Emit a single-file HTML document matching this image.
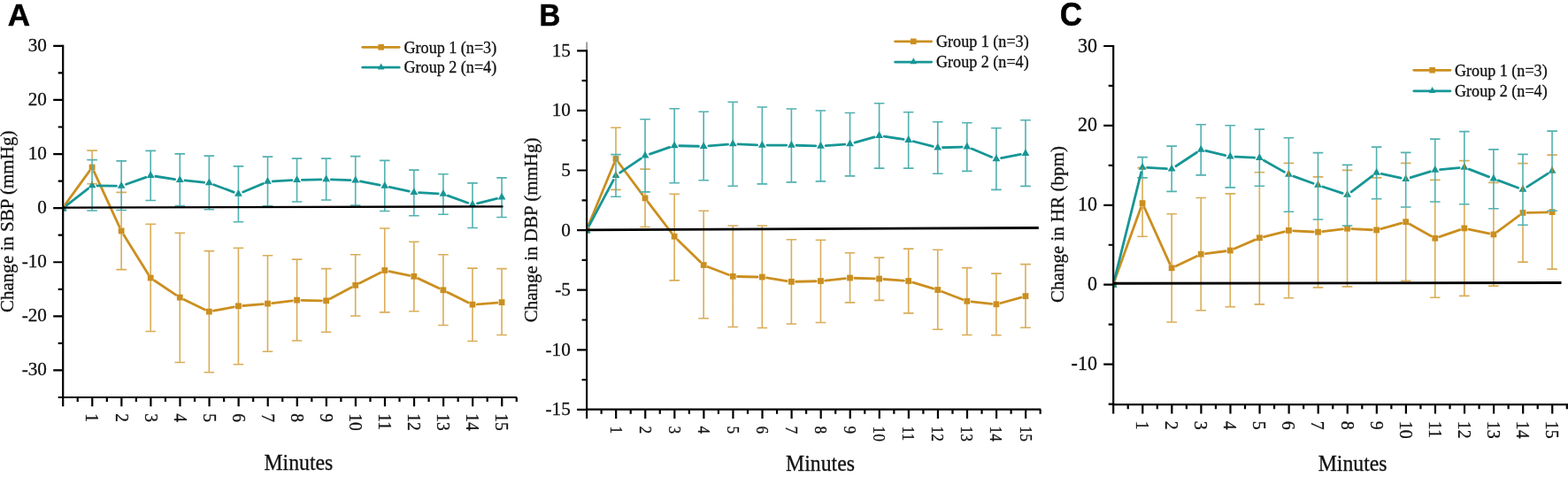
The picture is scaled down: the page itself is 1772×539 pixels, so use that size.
<!DOCTYPE html>
<html lang="en"><head><meta charset="utf-8"><title>Change in SBP, DBP and HR over time</title>
<style>html,body{margin:0;padding:0;background:#fff}body{width:1772px;height:539px;overflow:hidden}svg{display:block}text{fill:#111}.s{font-family:"Liberation Serif", "Times New Roman", serif;stroke:#111;stroke-width:.3px}.b{font-family:"Liberation Sans", Arial, sans-serif;font-weight:700;fill:#000;stroke:#000;stroke-width:.5px}</style>
</head><body>
<svg width="1772" height="539" viewBox="0 0 1772 539">
<rect width="1772" height="539" fill="#fff"/>
<g id="panel-A">
<text class="s" transform="translate(52.9 57.65) scale(0.99 1)" font-size="21.4" text-anchor="end">30</text>
<text class="s" transform="translate(52.9 118.75) scale(0.99 1)" font-size="21.4" text-anchor="end">20</text>
<text class="s" transform="translate(52.9 179.85) scale(0.99 1)" font-size="21.4" text-anchor="end">10</text>
<text class="s" transform="translate(52.9 240.95) scale(0.99 1)" font-size="21.4" text-anchor="end">0</text>
<text class="s" transform="translate(52.9 302.05) scale(0.99 1)" font-size="21.4" text-anchor="end">-10</text>
<text class="s" transform="translate(52.9 363.15) scale(0.99 1)" font-size="21.4" text-anchor="end">-20</text>
<text class="s" transform="translate(52.9 424.25) scale(0.99 1)" font-size="21.4" text-anchor="end">-30</text>
<text class="s" transform="translate(97.47 467.3) rotate(90) scale(0.9 1)" font-size="21.6" text-anchor="start">1</text>
<text class="s" transform="translate(130.54 467.3) rotate(90) scale(0.9 1)" font-size="21.6" text-anchor="start">2</text>
<text class="s" transform="translate(163.61 467.3) rotate(90) scale(0.9 1)" font-size="21.6" text-anchor="start">3</text>
<text class="s" transform="translate(196.68 467.3) rotate(90) scale(0.9 1)" font-size="21.6" text-anchor="start">4</text>
<text class="s" transform="translate(229.75 467.3) rotate(90) scale(0.9 1)" font-size="21.6" text-anchor="start">5</text>
<text class="s" transform="translate(262.82 467.3) rotate(90) scale(0.9 1)" font-size="21.6" text-anchor="start">6</text>
<text class="s" transform="translate(295.89 467.3) rotate(90) scale(0.9 1)" font-size="21.6" text-anchor="start">7</text>
<text class="s" transform="translate(328.96 467.3) rotate(90) scale(0.9 1)" font-size="21.6" text-anchor="start">8</text>
<text class="s" transform="translate(362.03 467.3) rotate(90) scale(0.9 1)" font-size="21.6" text-anchor="start">9</text>
<text class="s" transform="translate(395.1 467.3) rotate(90) scale(0.9 1)" font-size="21.6" text-anchor="start">10</text>
<text class="s" transform="translate(428.17 467.3) rotate(90) scale(0.9 1)" font-size="21.6" text-anchor="start">11</text>
<text class="s" transform="translate(461.24 467.3) rotate(90) scale(0.9 1)" font-size="21.6" text-anchor="start">12</text>
<text class="s" transform="translate(494.31 467.3) rotate(90) scale(0.9 1)" font-size="21.6" text-anchor="start">13</text>
<text class="s" transform="translate(527.38 467.3) rotate(90) scale(0.9 1)" font-size="21.6" text-anchor="start">14</text>
<text class="s" transform="translate(560.45 467.3) rotate(90) scale(0.9 1)" font-size="21.6" text-anchor="start">15</text>
<text class="s" transform="translate(14.8 250.3) rotate(-90) scale(0.97 1)" font-size="21.7" text-anchor="middle">Change in SBP (mmHg)</text>
<text class="s" transform="translate(337.4 531.2) scale(0.94 1)" font-size="25.3" text-anchor="middle">Minutes</text>
<text class="b" transform="translate(8.8 28.8)" font-size="35" text-anchor="start">A</text>
<g transform="translate(-0.2 0.3)">
<path d="M104.27 169.8V180.3M98.47 169.8h11.6M98.47 207.4h11.6M137.34 237.2V304.3M131.54 217.1h11.6M131.54 304.3h11.6M170.41 253V374.2M164.61 253h11.6M164.61 374.2h11.6M203.48 263V409.2M197.68 263h11.6M197.68 409.2h11.6M236.55 283.3V420.4M230.75 283.3h11.6M230.75 420.4h11.6M269.62 280V411.5M263.82 280h11.6M263.82 411.5h11.6M302.69 288.5V397M296.89 288.5h11.6M296.89 397h11.6M335.76 292.8V384.7M329.96 292.8h11.6M329.96 384.7h11.6M368.83 303.3V374.9M363.03 303.3h11.6M363.03 374.9h11.6M401.9 287.5V356.7M396.1 287.5h11.6M396.1 356.7h11.6M434.97 257.7V352.6M429.17 257.7h11.6M429.17 352.6h11.6M468.04 273V351.4M462.24 273h11.6M462.24 351.4h11.6M501.11 287.5V367.2M495.31 287.5h11.6M495.31 367.2h11.6M534.18 302.8V385.2M528.38 302.8h11.6M528.38 385.2h11.6M567.25 303.3V378.2M561.45 303.3h11.6M561.45 378.2h11.6" fill="none" stroke="#d9ad58" stroke-width="1.6"/>
<path fill="none" stroke="#cb8f20" stroke-width="2.8" stroke-linecap="round" d="M74.24 230.38L101.23 193.02M106.44 193.52L135.17 255.98M140.09 265.11L167.66 309.39M174.73 316.69L199.16 333.01M208.16 338.16L231.87 349.64M241.66 350.93L264.51 346.57M274.8 345.18L297.51 343.32M307.85 342.28L330.6 339.52M340.96 339.01L363.63 339.49M373.43 337.17L397.3 324.53M406.54 319.74L430.33 307.66M440.06 306.35L462.95 311.05M472.75 314.31L496.4 325.39M505.77 329.9L529.52 341.6M539.37 343.51L562.06 341.79"/>
<rect x="71.4" y="231.5" width="3.6" height="6.8" fill="#cb8f20"/>
<rect x="100.87" y="185.3" width="6.8" height="6.8" fill="#cb8f20"/>
<rect x="133.94" y="257.2" width="6.8" height="6.8" fill="#cb8f20"/>
<rect x="167.01" y="310.3" width="6.8" height="6.8" fill="#cb8f20"/>
<rect x="200.08" y="332.4" width="6.8" height="6.8" fill="#cb8f20"/>
<rect x="233.15" y="348.4" width="6.8" height="6.8" fill="#cb8f20"/>
<rect x="266.22" y="342.1" width="6.8" height="6.8" fill="#cb8f20"/>
<rect x="299.29" y="339.4" width="6.8" height="6.8" fill="#cb8f20"/>
<rect x="332.36" y="335.4" width="6.8" height="6.8" fill="#cb8f20"/>
<rect x="365.43" y="336.1" width="6.8" height="6.8" fill="#cb8f20"/>
<rect x="398.5" y="318.6" width="6.8" height="6.8" fill="#cb8f20"/>
<rect x="431.57" y="301.8" width="6.8" height="6.8" fill="#cb8f20"/>
<rect x="464.64" y="308.6" width="6.8" height="6.8" fill="#cb8f20"/>
<rect x="497.71" y="324.1" width="6.8" height="6.8" fill="#cb8f20"/>
<rect x="530.78" y="340.4" width="6.8" height="6.8" fill="#cb8f20"/>
<rect x="563.85" y="337.9" width="6.8" height="6.8" fill="#cb8f20"/>
<path d="M104.27 180.3V237.7M98.47 180.3h11.6M98.47 237.7h11.6M137.34 181.6V237.2M131.54 181.6h11.6M131.54 237.2h11.6M170.41 170.1V226.2M164.61 170.1h11.6M164.61 226.2h11.6M203.48 173.6V232.2M197.68 173.6h11.6M197.68 232.2h11.6M236.55 175.8V236.4M230.75 175.8h11.6M230.75 236.4h11.6M269.62 187.6V250.5M263.82 187.6h11.6M263.82 250.5h11.6M302.69 176.8V232.5M296.89 176.8h11.6M296.89 232.5h11.6M335.76 178.8V227.7M329.96 178.8h11.6M329.96 227.7h11.6M368.83 178.8V225.7M363.03 178.8h11.6M363.03 225.7h11.6M401.9 176.3V231.7M396.1 176.3h11.6M396.1 231.7h11.6M434.97 181.1V238.2M429.17 181.1h11.6M429.17 238.2h11.6M468.04 191.8V243.4M462.24 191.8h11.6M462.24 243.4h11.6M501.11 196.4V241.9M495.31 196.4h11.6M495.31 241.9h11.6M534.18 206.6V257.2M528.38 206.6h11.6M528.38 257.2h11.6M567.25 200.6V245.2M561.45 200.6h11.6M561.45 245.2h11.6" fill="none" stroke="#52b1b1" stroke-width="1.6"/>
<path fill="none" stroke="#179696" stroke-width="2.8" stroke-linecap="round" d="M75.7 231.6L99.77 212.9M109.97 209.49L131.64 209.81M142.71 207.98L165.04 200.02M176.05 198.95L197.84 202.25M209.15 203.67L230.88 205.83M241.88 208.42L264.29 216.88M274.87 216.68L297.44 207.12M308.38 204.59L330.07 203.41M341.46 202.98L363.13 202.52M374.53 202.61L396.2 203.39M407.5 204.67L429.37 208.83M440.54 211.11L462.47 215.89M473.73 217.41L495.42 218.59M506.47 220.84L528.82 228.96M539.71 229.53L561.72 224.07"/>
<path d="M71.4 230.3l4.4 7.8h-4.4z" fill="#179696"/>
<path d="M104.27 204.2l4.4 7.8h-8.8z" fill="#179696"/>
<path d="M137.34 204.7l4.4 7.8h-8.8z" fill="#179696"/>
<path d="M170.41 192.9l4.4 7.8h-8.8z" fill="#179696"/>
<path d="M203.48 197.9l4.4 7.8h-8.8z" fill="#179696"/>
<path d="M236.55 201.2l4.4 7.8h-8.8z" fill="#179696"/>
<path d="M269.62 213.7l4.4 7.8h-8.8z" fill="#179696"/>
<path d="M302.69 199.7l4.4 7.8h-8.8z" fill="#179696"/>
<path d="M335.76 197.9l4.4 7.8h-8.8z" fill="#179696"/>
<path d="M368.83 197.2l4.4 7.8h-8.8z" fill="#179696"/>
<path d="M401.9 198.4l4.4 7.8h-8.8z" fill="#179696"/>
<path d="M434.97 204.7l4.4 7.8h-8.8z" fill="#179696"/>
<path d="M468.04 211.9l4.4 7.8h-8.8z" fill="#179696"/>
<path d="M501.11 213.7l4.4 7.8h-8.8z" fill="#179696"/>
<path d="M534.18 225.7l4.4 7.8h-8.8z" fill="#179696"/>
<path d="M567.25 217.5l4.4 7.8h-8.8z" fill="#179696"/>
<path d="M104.27 204.9V207.4" fill="none" stroke="#cb8f20" stroke-width="1.1"/>
</g>
<g stroke="#000" stroke-width="2.2" fill="none" stroke-linecap="butt">
<path d="M71.2 50.75V449H584"/>
<path d="M71.2 51.85h-11M71.2 112.95h-11M71.2 174.05h-11M71.2 235.15h-11M71.2 296.25h-11M71.2 357.35h-11M71.2 418.45h-11M71.2 82.4h-5.5M71.2 143.5h-5.5M71.2 204.6h-5.5M71.2 265.7h-5.5M71.2 326.8h-5.5M71.2 387.9h-5.5M71.2 449h-5.5M71.2 449v10.3M104.27 449v10.3M137.34 449v10.3M170.41 449v10.3M203.48 449v10.3M236.55 449v10.3M269.62 449v10.3M302.69 449v10.3M335.76 449v10.3M368.83 449v10.3M401.9 449v10.3M434.97 449v10.3M468.04 449v10.3M501.11 449v10.3M534.18 449v10.3M567.25 449v10.3M87.73 449v5M120.81 449v5M153.88 449v5M186.94 449v5M220.01 449v5M253.08 449v5M286.16 449v5M319.23 449v5M352.3 449v5M385.37 449v5M418.44 449v5M451.5 449v5M484.57 449v5M517.64 449v5M550.72 449v5M583.79 449v5"/>
</g>
<line x1="71.2" y1="234.6" x2="568.5" y2="233.4" stroke="#000" stroke-width="2.4"/>
<line x1="409.75" y1="53.3" x2="451.15" y2="53.3" stroke="#cb8f20" stroke-width="2.8" stroke-linecap="round"/>
<rect x="427.35" y="50" width="6.6" height="6.6" fill="#cb8f20"/>
<line x1="409.75" y1="76.2" x2="451.15" y2="76.2" stroke="#179696" stroke-width="2.8" stroke-linecap="round"/>
<path d="M430.65 71.4l3.8 7h-7.6z" fill="#179696"/>
<text class="s" transform="translate(456.5 59.5) scale(1 1)" font-size="18.1" text-anchor="start">Group 1 (n=3)</text>
<text class="s" transform="translate(456.5 82.3) scale(1 1)" font-size="18.1" text-anchor="start">Group 2 (n=4)</text>
</g>
<g id="panel-B">
<text class="s" transform="translate(644.8 63.8) scale(0.99 1)" font-size="21.4" text-anchor="end">15</text>
<text class="s" transform="translate(644.8 131.4) scale(0.99 1)" font-size="21.4" text-anchor="end">10</text>
<text class="s" transform="translate(644.8 199) scale(0.99 1)" font-size="21.4" text-anchor="end">5</text>
<text class="s" transform="translate(644.8 266.6) scale(0.99 1)" font-size="21.4" text-anchor="end">0</text>
<text class="s" transform="translate(644.8 334.2) scale(0.99 1)" font-size="21.4" text-anchor="end">-5</text>
<text class="s" transform="translate(644.8 401.8) scale(0.99 1)" font-size="21.4" text-anchor="end">-10</text>
<text class="s" transform="translate(644.8 469.4) scale(0.99 1)" font-size="21.4" text-anchor="end">-15</text>
<text class="s" transform="translate(689.57 481.6) rotate(90) scale(0.88 1)" font-size="19.6" text-anchor="start">1</text>
<text class="s" transform="translate(722.64 481.6) rotate(90) scale(0.88 1)" font-size="19.6" text-anchor="start">2</text>
<text class="s" transform="translate(755.71 481.6) rotate(90) scale(0.88 1)" font-size="19.6" text-anchor="start">3</text>
<text class="s" transform="translate(788.78 481.6) rotate(90) scale(0.88 1)" font-size="19.6" text-anchor="start">4</text>
<text class="s" transform="translate(821.85 481.6) rotate(90) scale(0.88 1)" font-size="19.6" text-anchor="start">5</text>
<text class="s" transform="translate(854.92 481.6) rotate(90) scale(0.88 1)" font-size="19.6" text-anchor="start">6</text>
<text class="s" transform="translate(887.99 481.6) rotate(90) scale(0.88 1)" font-size="19.6" text-anchor="start">7</text>
<text class="s" transform="translate(921.06 481.6) rotate(90) scale(0.88 1)" font-size="19.6" text-anchor="start">8</text>
<text class="s" transform="translate(954.13 481.6) rotate(90) scale(0.88 1)" font-size="19.6" text-anchor="start">9</text>
<text class="s" transform="translate(987.2 481.6) rotate(90) scale(0.88 1)" font-size="19.6" text-anchor="start">10</text>
<text class="s" transform="translate(1020.27 481.6) rotate(90) scale(0.88 1)" font-size="19.6" text-anchor="start">11</text>
<text class="s" transform="translate(1053.34 481.6) rotate(90) scale(0.88 1)" font-size="19.6" text-anchor="start">12</text>
<text class="s" transform="translate(1086.41 481.6) rotate(90) scale(0.88 1)" font-size="19.6" text-anchor="start">13</text>
<text class="s" transform="translate(1119.48 481.6) rotate(90) scale(0.88 1)" font-size="19.6" text-anchor="start">14</text>
<text class="s" transform="translate(1152.55 481.6) rotate(90) scale(0.88 1)" font-size="19.6" text-anchor="start">15</text>
<text class="s" transform="translate(606.6 259.9) rotate(-90) scale(0.97 1)" font-size="21.7" text-anchor="middle">Change in DBP (mmHg)</text>
<text class="s" transform="translate(927 531.5) scale(0.94 1)" font-size="25.3" text-anchor="middle">Minutes</text>
<text class="b" transform="translate(609.5 28.5) scale(0.94 1)" font-size="35" text-anchor="start">B</text>
<g transform="translate(-0.2 0.3)">
<path d="M696.17 144V174.3M690.37 144h11.6M690.37 214.1h11.6M729.24 216.6V256.2M723.44 190.8h11.6M723.44 256.2h11.6M762.31 218.9V316.6M756.51 218.9h11.6M756.51 316.6h11.6M795.38 237.9V359.4M789.58 237.9h11.6M789.58 359.4h11.6M828.45 254.7V369.2M822.65 254.7h11.6M822.65 369.2h11.6M861.52 254.7V370.2M855.72 254.7h11.6M855.72 370.2h11.6M894.59 270.5V365.7M888.79 270.5h11.6M888.79 365.7h11.6M927.66 271V364.2M921.86 271h11.6M921.86 364.2h11.6M960.73 285.5V341.6M954.93 285.5h11.6M954.93 341.6h11.6M993.8 290.8V339.1M988 290.8h11.6M988 339.1h11.6M1026.87 280.8V353.6M1021.07 280.8h11.6M1021.07 353.6h11.6M1059.94 282V371.9M1054.14 282h11.6M1054.14 371.9h11.6M1093.01 302.3V378.2M1087.21 302.3h11.6M1087.21 378.2h11.6M1126.08 308.8V378.4M1120.28 308.8h11.6M1120.28 378.4h11.6M1159.15 298.3V369.9M1153.35 298.3h11.6M1153.35 369.9h11.6" fill="none" stroke="#d9ad58" stroke-width="1.6"/>
<path fill="none" stroke="#cb8f20" stroke-width="2.8" stroke-linecap="round" d="M665.08 254.79L694.19 184.11M699.28 183.47L726.13 219.53M732.4 227.83L759.15 262.87M766.03 270.63L791.66 295.67M800.23 301.18L823.6 310.22M833.65 312.21L856.32 312.69M866.65 313.62L889.46 317.28M899.79 317.97L922.46 317.43M932.83 316.75L955.56 314.35M965.93 313.96L988.6 314.64M998.99 315.19L1021.68 316.91M1031.85 318.81L1054.96 325.79M1064.79 329.18L1088.16 338.22M1098.18 340.65L1120.91 343.05M1131.09 342.21L1154.14 335.79"/>
<rect x="663.3" y="256.5" width="3.6" height="6.8" fill="#cb8f20"/>
<rect x="692.77" y="175.8" width="6.8" height="6.8" fill="#cb8f20"/>
<rect x="725.84" y="220.2" width="6.8" height="6.8" fill="#cb8f20"/>
<rect x="758.91" y="263.5" width="6.8" height="6.8" fill="#cb8f20"/>
<rect x="791.98" y="295.8" width="6.8" height="6.8" fill="#cb8f20"/>
<rect x="825.05" y="308.6" width="6.8" height="6.8" fill="#cb8f20"/>
<rect x="858.12" y="309.3" width="6.8" height="6.8" fill="#cb8f20"/>
<rect x="891.19" y="314.6" width="6.8" height="6.8" fill="#cb8f20"/>
<rect x="924.26" y="313.8" width="6.8" height="6.8" fill="#cb8f20"/>
<rect x="957.33" y="310.3" width="6.8" height="6.8" fill="#cb8f20"/>
<rect x="990.4" y="311.3" width="6.8" height="6.8" fill="#cb8f20"/>
<rect x="1023.47" y="313.8" width="6.8" height="6.8" fill="#cb8f20"/>
<rect x="1056.54" y="323.8" width="6.8" height="6.8" fill="#cb8f20"/>
<rect x="1089.61" y="336.6" width="6.8" height="6.8" fill="#cb8f20"/>
<rect x="1122.68" y="340.1" width="6.8" height="6.8" fill="#cb8f20"/>
<rect x="1155.75" y="330.9" width="6.8" height="6.8" fill="#cb8f20"/>
<path d="M696.17 174.3V221.9M690.37 174.3h11.6M690.37 221.9h11.6M729.24 134.5V216.6M723.44 134.5h11.6M723.44 216.6h11.6M762.31 122.5V206.4M756.51 122.5h11.6M756.51 206.4h11.6M795.38 126V203.4M789.58 126h11.6M789.58 203.4h11.6M828.45 115V209.9M822.65 115h11.6M822.65 209.9h11.6M861.52 120.7V207.6M855.72 120.7h11.6M855.72 207.6h11.6M894.59 122.7V205.6M888.79 122.7h11.6M888.79 205.6h11.6M927.66 124.7V204.6M921.86 124.7h11.6M921.86 204.6h11.6M960.73 127.2V198.6M954.93 127.2h11.6M954.93 198.6h11.6M993.8 116.5V189.8M988 116.5h11.6M988 189.8h11.6M1026.87 126.5V189.8M1021.07 126.5h11.6M1021.07 189.8h11.6M1059.94 137.5V195.9M1054.14 137.5h11.6M1054.14 195.9h11.6M1093.01 138.5V193.1M1087.21 138.5h11.6M1087.21 193.1h11.6M1126.08 144.5V214.1M1120.28 144.5h11.6M1120.28 214.1h11.6M1159.15 135.5V210.1M1153.35 135.5h11.6M1153.35 210.1h11.6" fill="none" stroke="#52b1b1" stroke-width="1.6"/>
<path fill="none" stroke="#179696" stroke-width="2.8" stroke-linecap="round" d="M665.78 255.07L693.49 203.13M700.88 194.89L724.53 178.81M734.63 173.76L756.92 166.14M768.01 164.44L789.68 164.96M801.06 164.62L822.77 162.78M834.14 162.56L855.83 163.54M867.22 163.8L888.89 163.8M900.29 163.97L921.96 164.63M933.34 164.37L955.05 162.73M966.22 160.76L988.31 154.54M999.44 153.85L1021.23 157.15M1032.39 159.43L1054.42 165.17M1065.64 166.43L1087.31 165.77M1098.28 167.78L1120.81 177.12M1131.68 178.25L1153.55 174.15"/>
<path d="M663.3 255.3l4.4 7.8h-4.4z" fill="#179696"/>
<path d="M696.17 192.9l4.4 7.8h-8.8z" fill="#179696"/>
<path d="M729.24 170.4l4.4 7.8h-8.8z" fill="#179696"/>
<path d="M762.31 159.1l4.4 7.8h-8.8z" fill="#179696"/>
<path d="M795.38 159.9l4.4 7.8h-8.8z" fill="#179696"/>
<path d="M828.45 157.1l4.4 7.8h-8.8z" fill="#179696"/>
<path d="M861.52 158.6l4.4 7.8h-8.8z" fill="#179696"/>
<path d="M894.59 158.6l4.4 7.8h-8.8z" fill="#179696"/>
<path d="M927.66 159.6l4.4 7.8h-8.8z" fill="#179696"/>
<path d="M960.73 157.1l4.4 7.8h-8.8z" fill="#179696"/>
<path d="M993.8 147.8l4.4 7.8h-8.8z" fill="#179696"/>
<path d="M1026.87 152.8l4.4 7.8h-8.8z" fill="#179696"/>
<path d="M1059.94 161.4l4.4 7.8h-8.8z" fill="#179696"/>
<path d="M1093.01 160.4l4.4 7.8h-8.8z" fill="#179696"/>
<path d="M1126.08 174.1l4.4 7.8h-8.8z" fill="#179696"/>
<path d="M1159.15 167.9l4.4 7.8h-8.8z" fill="#179696"/>
<path d="M696.17 193.6V200.5" fill="none" stroke="#cb8f20" stroke-width="1.1"/>
</g>
<g stroke="#000" stroke-width="2.2" fill="none" stroke-linecap="butt">
<path d="M663.1 56.2V462.7H1176.3"/>
<path d="M663.1 47.6V56.2" stroke="#555" stroke-width="1.1"/>
<path d="M663.1 57.3h-11M663.1 124.9h-11M663.1 192.5h-11M663.1 260.1h-11M663.1 327.7h-11M663.1 395.3h-11M663.1 462.9h-11M663.1 91.1h-5.5M663.1 158.7h-5.5M663.1 226.3h-5.5M663.1 293.9h-5.5M663.1 361.5h-5.5M663.1 429.1h-5.5M663.1 462.7v10.3M696.17 462.7v10.3M729.24 462.7v10.3M762.31 462.7v10.3M795.38 462.7v10.3M828.45 462.7v10.3M861.52 462.7v10.3M894.59 462.7v10.3M927.66 462.7v10.3M960.73 462.7v10.3M993.8 462.7v10.3M1026.87 462.7v10.3M1059.94 462.7v10.3M1093.01 462.7v10.3M1126.08 462.7v10.3M1159.15 462.7v10.3M679.63 462.7v5M712.71 462.7v5M745.77 462.7v5M778.85 462.7v5M811.91 462.7v5M844.99 462.7v5M878.06 462.7v5M911.12 462.7v5M944.2 462.7v5M977.27 462.7v5M1010.34 462.7v5M1043.4 462.7v5M1076.47 462.7v5M1109.55 462.7v5M1142.62 462.7v5M1175.68 462.7v5"/>
</g>
<line x1="663.1" y1="259.8" x2="1173.8" y2="257.5" stroke="#000" stroke-width="2.8"/>
<line x1="1011.55" y1="46.8" x2="1052.65" y2="46.8" stroke="#cb8f20" stroke-width="2.8" stroke-linecap="round"/>
<rect x="1029" y="43.5" width="6.6" height="6.6" fill="#cb8f20"/>
<line x1="1011.55" y1="70.1" x2="1052.65" y2="70.1" stroke="#179696" stroke-width="2.8" stroke-linecap="round"/>
<path d="M1032.3 65.3l3.8 7h-7.6z" fill="#179696"/>
<text class="s" transform="translate(1058 53) scale(1 1)" font-size="18.1" text-anchor="start">Group 1 (n=3)</text>
<text class="s" transform="translate(1058 76.2) scale(1 1)" font-size="18.1" text-anchor="start">Group 2 (n=4)</text>
</g>
<g id="panel-C">
<text class="s" transform="translate(1239.9 58.5) scale(0.99 1)" font-size="22.2" text-anchor="end">30</text>
<text class="s" transform="translate(1239.9 148.4) scale(0.99 1)" font-size="22.2" text-anchor="end">20</text>
<text class="s" transform="translate(1239.9 238.3) scale(0.99 1)" font-size="22.2" text-anchor="end">10</text>
<text class="s" transform="translate(1239.9 328.2) scale(0.99 1)" font-size="22.2" text-anchor="end">0</text>
<text class="s" transform="translate(1239.9 418.1) scale(0.99 1)" font-size="22.2" text-anchor="end">-10</text>
<text class="s" transform="translate(1284.07 475.8) rotate(90) scale(0.91 1)" font-size="21.8" text-anchor="start">1</text>
<text class="s" transform="translate(1317.14 475.8) rotate(90) scale(0.91 1)" font-size="21.8" text-anchor="start">2</text>
<text class="s" transform="translate(1350.21 475.8) rotate(90) scale(0.91 1)" font-size="21.8" text-anchor="start">3</text>
<text class="s" transform="translate(1383.28 475.8) rotate(90) scale(0.91 1)" font-size="21.8" text-anchor="start">4</text>
<text class="s" transform="translate(1416.35 475.8) rotate(90) scale(0.91 1)" font-size="21.8" text-anchor="start">5</text>
<text class="s" transform="translate(1449.42 475.8) rotate(90) scale(0.91 1)" font-size="21.8" text-anchor="start">6</text>
<text class="s" transform="translate(1482.49 475.8) rotate(90) scale(0.91 1)" font-size="21.8" text-anchor="start">7</text>
<text class="s" transform="translate(1515.56 475.8) rotate(90) scale(0.91 1)" font-size="21.8" text-anchor="start">8</text>
<text class="s" transform="translate(1548.63 475.8) rotate(90) scale(0.91 1)" font-size="21.8" text-anchor="start">9</text>
<text class="s" transform="translate(1581.7 475.8) rotate(90) scale(0.91 1)" font-size="21.8" text-anchor="start">10</text>
<text class="s" transform="translate(1614.77 475.8) rotate(90) scale(0.91 1)" font-size="21.8" text-anchor="start">11</text>
<text class="s" transform="translate(1647.84 475.8) rotate(90) scale(0.91 1)" font-size="21.8" text-anchor="start">12</text>
<text class="s" transform="translate(1680.91 475.8) rotate(90) scale(0.91 1)" font-size="21.8" text-anchor="start">13</text>
<text class="s" transform="translate(1713.98 475.8) rotate(90) scale(0.91 1)" font-size="21.8" text-anchor="start">14</text>
<text class="s" transform="translate(1747.05 475.8) rotate(90) scale(0.91 1)" font-size="21.8" text-anchor="start">15</text>
<text class="s" transform="translate(1201.7 253.5) rotate(-90) scale(0.97 1)" font-size="21.7" text-anchor="middle">Change in HR (bpm)</text>
<text class="s" transform="translate(1528.6 531.6) scale(0.94 1)" font-size="25.3" text-anchor="middle">Minutes</text>
<text class="b" transform="translate(1197.7 29.05) scale(0.96 1)" font-size="36.4" text-anchor="start">C</text>
<g transform="translate(-0.2 0.3)">
<path d="M1291.27 200.6V267M1285.47 189.3h11.6M1285.47 267h11.6M1324.34 241.4V363.7M1318.54 241.4h11.6M1318.54 363.7h11.6M1357.41 223.2V350.4M1351.61 223.2h11.6M1351.61 350.4h11.6M1390.48 218.6V346.4M1384.68 218.6h11.6M1384.68 346.4h11.6M1423.55 209.9V343.6M1417.75 194.4h11.6M1417.75 343.6h11.6M1456.62 238.9V336.4M1450.82 184.1h11.6M1450.82 336.4h11.6M1489.69 247.7V324.6M1483.89 199.6h11.6M1483.89 324.6h11.6M1522.76 254.7V323.6M1516.96 192.1h11.6M1516.96 323.6h11.6M1555.83 224.4V319.5M1550.03 200.6h11.6M1550.03 319.5h11.6M1588.9 233.7V317.1M1583.1 184.1h11.6M1583.1 317.1h11.6M1621.97 227.7V335.9M1616.17 203.1h11.6M1616.17 335.9h11.6M1655.04 230.4V334.1M1649.24 181.3h11.6M1649.24 334.1h11.6M1688.11 235.4V322.8M1682.31 206.1h11.6M1682.31 322.8h11.6M1721.18 254V295.8M1715.38 184.3h11.6M1715.38 295.8h11.6M1754.25 237.9V303.8M1748.45 174.8h11.6M1748.45 303.8h11.6" fill="none" stroke="#d9ad58" stroke-width="1.6"/>
<path fill="none" stroke="#cb8f20" stroke-width="2.8" stroke-linecap="round" d="M1259.97 316.11L1289.5 234.29M1293.41 234.14L1322.2 297.86M1329.04 300.38L1352.71 289.22M1362.57 286.34L1385.32 283.46M1395.25 280.74L1418.78 270.56M1428.59 267.23L1451.58 261.47M1461.81 260.48L1484.5 261.72M1494.85 261.38L1517.6 258.62M1527.95 258.27L1550.64 259.43M1560.84 258.31L1583.89 251.89M1593.44 253.04L1617.43 266.46M1626.89 267.32L1650.12 259.38M1660.13 258.78L1683.02 263.62M1692.29 261.6L1717 243.3M1726.38 240.07L1749.05 239.53"/>
<rect x="1258.4" y="317.9" width="3.6" height="6.8" fill="#cb8f20"/>
<rect x="1287.87" y="225.9" width="6.8" height="6.8" fill="#cb8f20"/>
<rect x="1320.94" y="299.1" width="6.8" height="6.8" fill="#cb8f20"/>
<rect x="1354.01" y="283.5" width="6.8" height="6.8" fill="#cb8f20"/>
<rect x="1387.08" y="279.3" width="6.8" height="6.8" fill="#cb8f20"/>
<rect x="1420.15" y="265" width="6.8" height="6.8" fill="#cb8f20"/>
<rect x="1453.22" y="256.7" width="6.8" height="6.8" fill="#cb8f20"/>
<rect x="1486.29" y="258.5" width="6.8" height="6.8" fill="#cb8f20"/>
<rect x="1519.36" y="254.5" width="6.8" height="6.8" fill="#cb8f20"/>
<rect x="1552.43" y="256.2" width="6.8" height="6.8" fill="#cb8f20"/>
<rect x="1585.5" y="247" width="6.8" height="6.8" fill="#cb8f20"/>
<rect x="1618.57" y="265.5" width="6.8" height="6.8" fill="#cb8f20"/>
<rect x="1651.64" y="254.2" width="6.8" height="6.8" fill="#cb8f20"/>
<rect x="1684.71" y="261.2" width="6.8" height="6.8" fill="#cb8f20"/>
<rect x="1717.78" y="236.7" width="6.8" height="6.8" fill="#cb8f20"/>
<rect x="1750.85" y="235.9" width="6.8" height="6.8" fill="#cb8f20"/>
<path d="M1291.27 177.3V200.6M1285.47 177.3h11.6M1285.47 200.6h11.6M1324.34 164.8V216.1M1318.54 164.8h11.6M1318.54 216.1h11.6M1357.41 140.5V197.6M1351.61 140.5h11.6M1351.61 197.6h11.6M1390.48 141.5V211.6M1384.68 141.5h11.6M1384.68 211.6h11.6M1423.55 145.8V209.9M1417.75 145.8h11.6M1417.75 209.9h11.6M1456.62 155.5V238.9M1450.82 155.5h11.6M1450.82 238.9h11.6M1489.69 172.3V247.7M1483.89 172.3h11.6M1483.89 247.7h11.6M1522.76 186.1V254.7M1516.96 186.1h11.6M1516.96 254.7h11.6M1555.83 165.8V224.4M1550.03 165.8h11.6M1550.03 224.4h11.6M1588.9 172.1V233.7M1583.1 172.1h11.6M1583.1 233.7h11.6M1621.97 156.8V227.7M1616.17 156.8h11.6M1616.17 227.7h11.6M1655.04 148.3V230.4M1649.24 148.3h11.6M1649.24 230.4h11.6M1688.11 168.6V235.4M1682.31 168.6h11.6M1682.31 235.4h11.6M1721.18 174.1V254M1715.38 174.1h11.6M1715.38 254h11.6M1754.25 147.8V237.9M1748.45 147.8h11.6M1748.45 237.9h11.6" fill="none" stroke="#52b1b1" stroke-width="1.6"/>
<path fill="none" stroke="#179696" stroke-width="2.8" stroke-linecap="round" d="M1259.58 315.97L1289.89 194.33M1296.96 189.11L1318.65 190.29M1329.1 187.46L1352.65 171.94M1362.96 170.11L1384.93 175.29M1396.17 176.86L1417.86 177.84M1428.51 180.92L1451.66 194.08M1461.98 198.84L1484.33 206.96M1495.1 210.7L1517.35 218.1M1527.31 216.46L1551.28 198.34M1561.4 196.11L1583.33 200.89M1594.34 200.4L1616.53 193.5M1627.65 191.29L1649.36 189.31M1660.36 190.86L1682.79 199.54M1693.45 203.59L1715.84 211.91M1725.99 210.83L1749.44 195.87"/>
<path d="M1258.4 316.7l4.4 7.8h-4.4z" fill="#179696"/>
<path d="M1291.27 183.6l4.4 7.8h-8.8z" fill="#179696"/>
<path d="M1324.34 185.4l4.4 7.8h-8.8z" fill="#179696"/>
<path d="M1357.41 163.6l4.4 7.8h-8.8z" fill="#179696"/>
<path d="M1390.48 171.4l4.4 7.8h-8.8z" fill="#179696"/>
<path d="M1423.55 172.9l4.4 7.8h-8.8z" fill="#179696"/>
<path d="M1456.62 191.7l4.4 7.8h-8.8z" fill="#179696"/>
<path d="M1489.69 203.7l4.4 7.8h-8.8z" fill="#179696"/>
<path d="M1522.76 214.7l4.4 7.8h-8.8z" fill="#179696"/>
<path d="M1555.83 189.7l4.4 7.8h-8.8z" fill="#179696"/>
<path d="M1588.9 196.9l4.4 7.8h-8.8z" fill="#179696"/>
<path d="M1621.97 186.6l4.4 7.8h-8.8z" fill="#179696"/>
<path d="M1655.04 183.6l4.4 7.8h-8.8z" fill="#179696"/>
<path d="M1688.11 196.4l4.4 7.8h-8.8z" fill="#179696"/>
<path d="M1721.18 208.7l4.4 7.8h-8.8z" fill="#179696"/>
<path d="M1754.25 187.6l4.4 7.8h-8.8z" fill="#179696"/>
<path d="M1291.27 189.3V191.2M1456.62 192.4V199.3M1489.69 204.4V211.3M1522.76 215.4V222.3M1588.9 197.6V204.5M1655.04 184.3V191.2M1721.18 209.4V216.3M1754.25 188.3V195.2" fill="none" stroke="#cb8f20" stroke-width="1.1"/>
</g>
<g stroke="#000" stroke-width="2.2" fill="none" stroke-linecap="butt">
<path d="M1258.2 50.9V457.2H1772"/>
<path d="M1258.2 52h-11M1258.2 141.9h-11M1258.2 231.8h-11M1258.2 321.7h-11M1258.2 411.6h-11M1258.2 96.95h-5.5M1258.2 186.85h-5.5M1258.2 276.75h-5.5M1258.2 366.65h-5.5M1258.2 456.55h-5.5M1258.2 457.2v10.3M1291.27 457.2v10.3M1324.34 457.2v10.3M1357.41 457.2v10.3M1390.48 457.2v10.3M1423.55 457.2v10.3M1456.62 457.2v10.3M1489.69 457.2v10.3M1522.76 457.2v10.3M1555.83 457.2v10.3M1588.9 457.2v10.3M1621.97 457.2v10.3M1655.04 457.2v10.3M1688.11 457.2v10.3M1721.18 457.2v10.3M1754.25 457.2v10.3M1274.74 457.2v5M1307.81 457.2v5M1340.88 457.2v5M1373.95 457.2v5M1407.02 457.2v5M1440.09 457.2v5M1473.15 457.2v5M1506.23 457.2v5M1539.3 457.2v5M1572.37 457.2v5M1605.43 457.2v5M1638.51 457.2v5M1671.58 457.2v5M1704.64 457.2v5M1737.72 457.2v5M1770.79 457.2v5"/>
</g>
<line x1="1258.2" y1="320.3" x2="1764.5" y2="319.5" stroke="#000" stroke-width="2.9"/>
<line x1="1597.85" y1="79.3" x2="1638.95" y2="79.3" stroke="#cb8f20" stroke-width="2.8" stroke-linecap="round"/>
<rect x="1615.3" y="76" width="6.6" height="6.6" fill="#cb8f20"/>
<line x1="1597.85" y1="102.8" x2="1638.95" y2="102.8" stroke="#179696" stroke-width="2.8" stroke-linecap="round"/>
<path d="M1618.6 98l3.8 7h-7.6z" fill="#179696"/>
<text class="s" transform="translate(1644 85.5) scale(1 1)" font-size="18.1" text-anchor="start">Group 1 (n=3)</text>
<text class="s" transform="translate(1644 108.9) scale(1 1)" font-size="18.1" text-anchor="start">Group 2 (n=4)</text>
</g>
</svg>
</body></html>
